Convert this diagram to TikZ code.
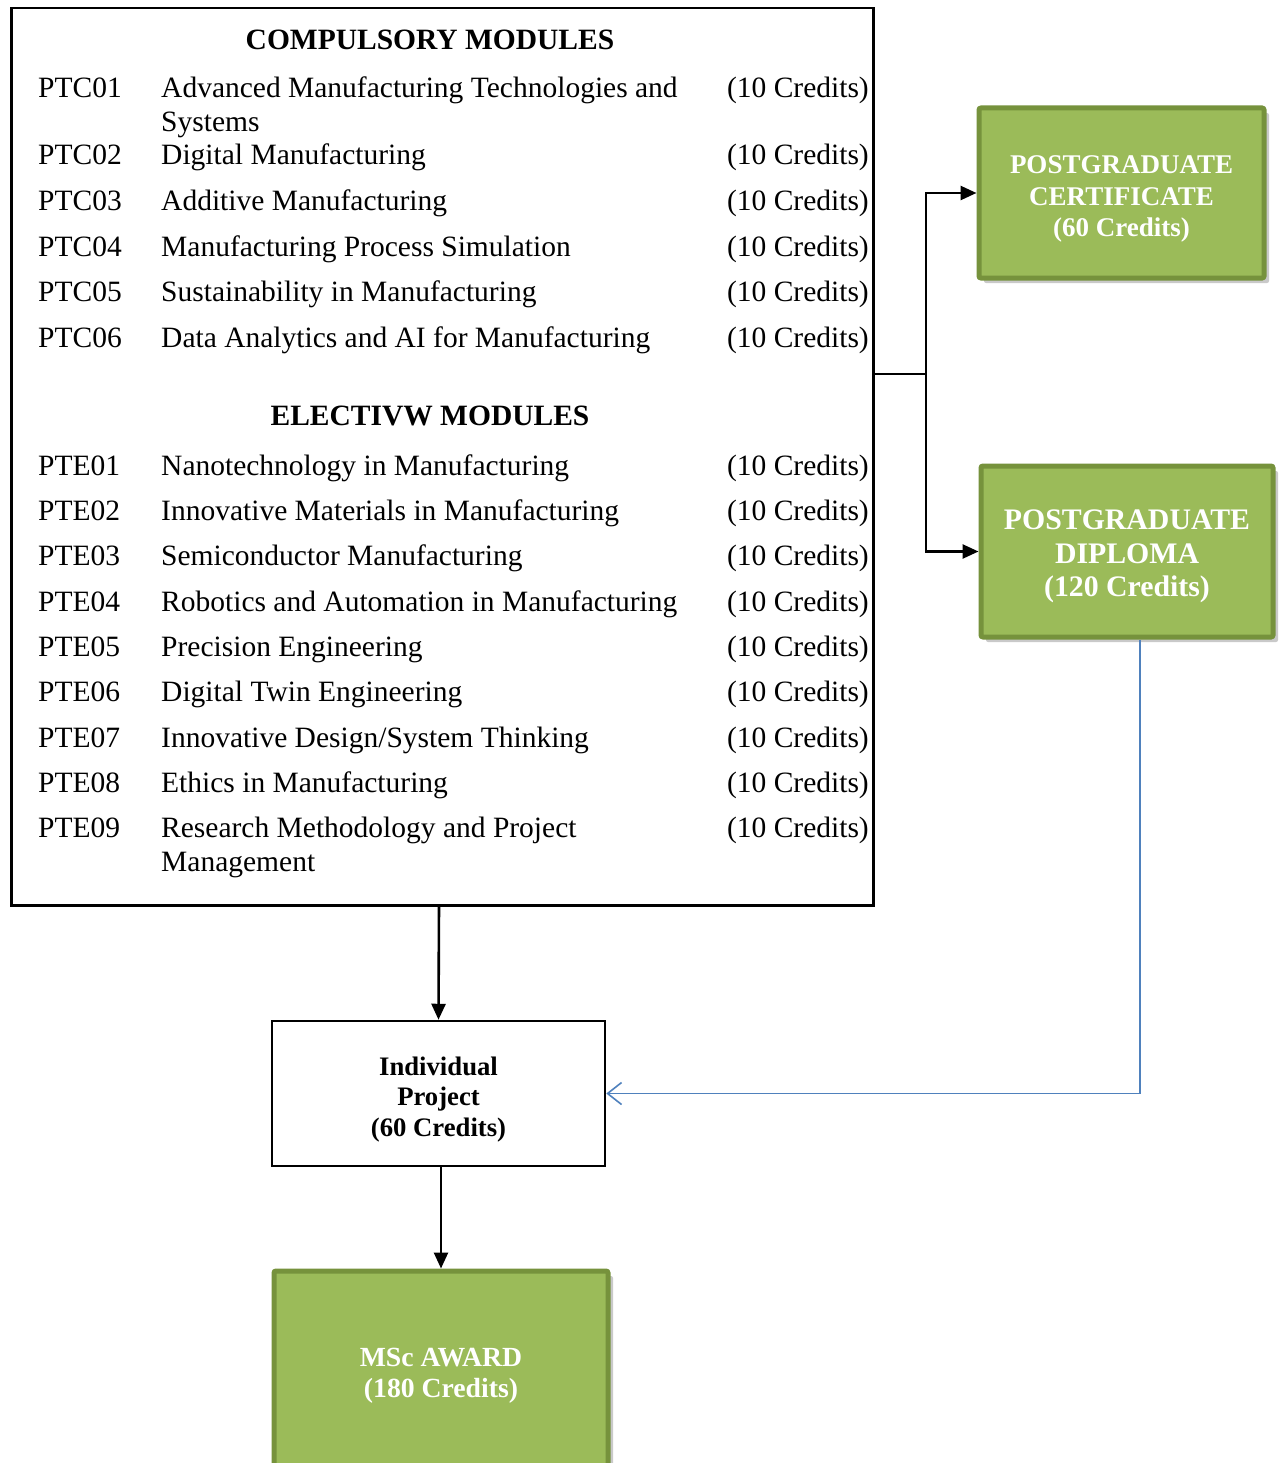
\documentclass[tikz,border=0pt]{standalone}
\usepackage{fontspec}
\setmainfont{Liberation Serif}
\usetikzlibrary{arrows.meta,shadows}
\definecolor{gfill}{HTML}{9BBB59}
\definecolor{gline}{HTML}{76923C}
\definecolor{bline}{HTML}{4F81BD}
\begin{document}
\begin{tikzpicture}[x=1pt,y=-1pt,
  body/.style={font=\fontsize{29.5}{34}\selectfont, inner sep=0pt},
  head/.style={font=\bfseries\fontsize{29.5}{34}\selectfont, inner sep=0pt},
  greenbox/.style={draw=gline, line width=5pt, fill=gfill, rounded corners=2pt,
     drop shadow={shadow xshift=5pt, shadow yshift=-5pt, opacity=0.35, fill=black!60}},
  greentext/.style={text=white, align=center, inner sep=0pt},
  plainbox/.style={draw=black, line width=2.5pt, fill=white},
  conn/.style={draw=black, line width=2.6pt, -{Triangle[length=16pt,width=14pt]}},
  bconn/.style={draw=bline, line width=1.8pt, -{Straight Barb[length=14pt,width=22pt,line width=1.6pt]}}
]
\clip (0,0) rectangle (1283,1463);
\fill[white] (0,0) rectangle (1283,1463);

% big modules box
\node[draw=black, line width=2.5pt, minimum width=862pt, minimum height=897pt, inner sep=0pt, anchor=north west] (mods) at (10,7) {};

\node[head] (h1) at (430,40) {COMPULSORY MODULES};
\node[head] (h2) at (430,416) {ELECTIVW MODULES};

\foreach \n/\c/\t/\y in {
  c1/PTC01/Advanced Manufacturing Technologies and/88,
  c2/PTC02/Digital Manufacturing/155,
  c3/PTC03/Additive Manufacturing/201,
  c4/PTC04/Manufacturing Process Simulation/246,
  c5/PTC05/Sustainability in Manufacturing/291,
  c6/PTC06/Data Analytics and AI for Manufacturing/337,
  e1/PTE01/Nanotechnology in Manufacturing/465,
  e2/PTE02/Innovative Materials in Manufacturing/510,
  e3/PTE03/Semiconductor Manufacturing/555,
  e4/PTE04/Robotics and Automation in Manufacturing/601,
  e5/PTE05/Precision Engineering/646,
  e6/PTE06/Digital Twin Engineering/691,
  e7/PTE07/Innovative Design\slash System Thinking/737,
  e8/PTE08/Ethics in Manufacturing/782,
  e9/PTE09/Research Methodology and Project/827}{
  \node[body, anchor=base west] (code\n) at (38,\y+10) {\c};
  \node[body, anchor=base west] (title\n) at (161,\y+10) {\t};
  \node[body, anchor=base east] (cred\n) at (869,\y+10) {(10 Credits)};
}
\node[body, anchor=base west] (titlec1b) at (161,122+10) {Systems};
\node[body, anchor=base west] (titlee9b) at (161,861+10) {Management};

% award boxes
\node[greenbox, minimum width=285pt, minimum height=170pt] (cert) at (1121.5,193) {};
\node[greentext, font=\bfseries\fontsize{27}{31.5}\selectfont] (certtxt) at ([yshift=-6pt]cert.center) {POSTGRADUATE\\CERTIFICATE\\(60 Credits)};
\node[greenbox, minimum width=292pt, minimum height=171pt] (dip) at (1127,551.5) {};
\node[greentext, font=\bfseries\fontsize{29.8}{33.5}\selectfont] (diptxt) at ([yshift=-5pt]dip.center) {POSTGRADUATE\\DIPLOMA\\(120 Credits)};
\node[plainbox, minimum width=333pt, minimum height=145pt] (proj) at (438.5,1093.5) {};
\node[align=center, inner sep=0pt, font=\bfseries\fontsize{26.7}{30.5}\selectfont] (projtxt) at ([yshift=-6pt]proj.center) {Individual\\Project\\(60 Credits)};
\node[greenbox, minimum width=334pt, minimum height=202pt] (msc) at (441,1372) {};
\node[greentext, font=\bfseries\fontsize{27.7}{31}\selectfont] (msctxt) at ([yshift=-4pt]msc.center) {MSc AWARD\\(180 Credits)};

% connectors
\coordinate (j) at (926,374);
\draw[line width=2.6pt] (mods.east |- j) -- (j);
\draw[conn] (j) |- (cert.west);
\draw[conn] (j) |- (dip.west);
\coordinate (mb) at (439,904);
\draw[conn] (mb) -- (proj.north);
\draw[conn] (proj.south -| msc.north) -- (msc.north);
\draw[bconn] ([xshift=13pt]dip.south) |- (proj.east);
\end{tikzpicture}
\end{document}
